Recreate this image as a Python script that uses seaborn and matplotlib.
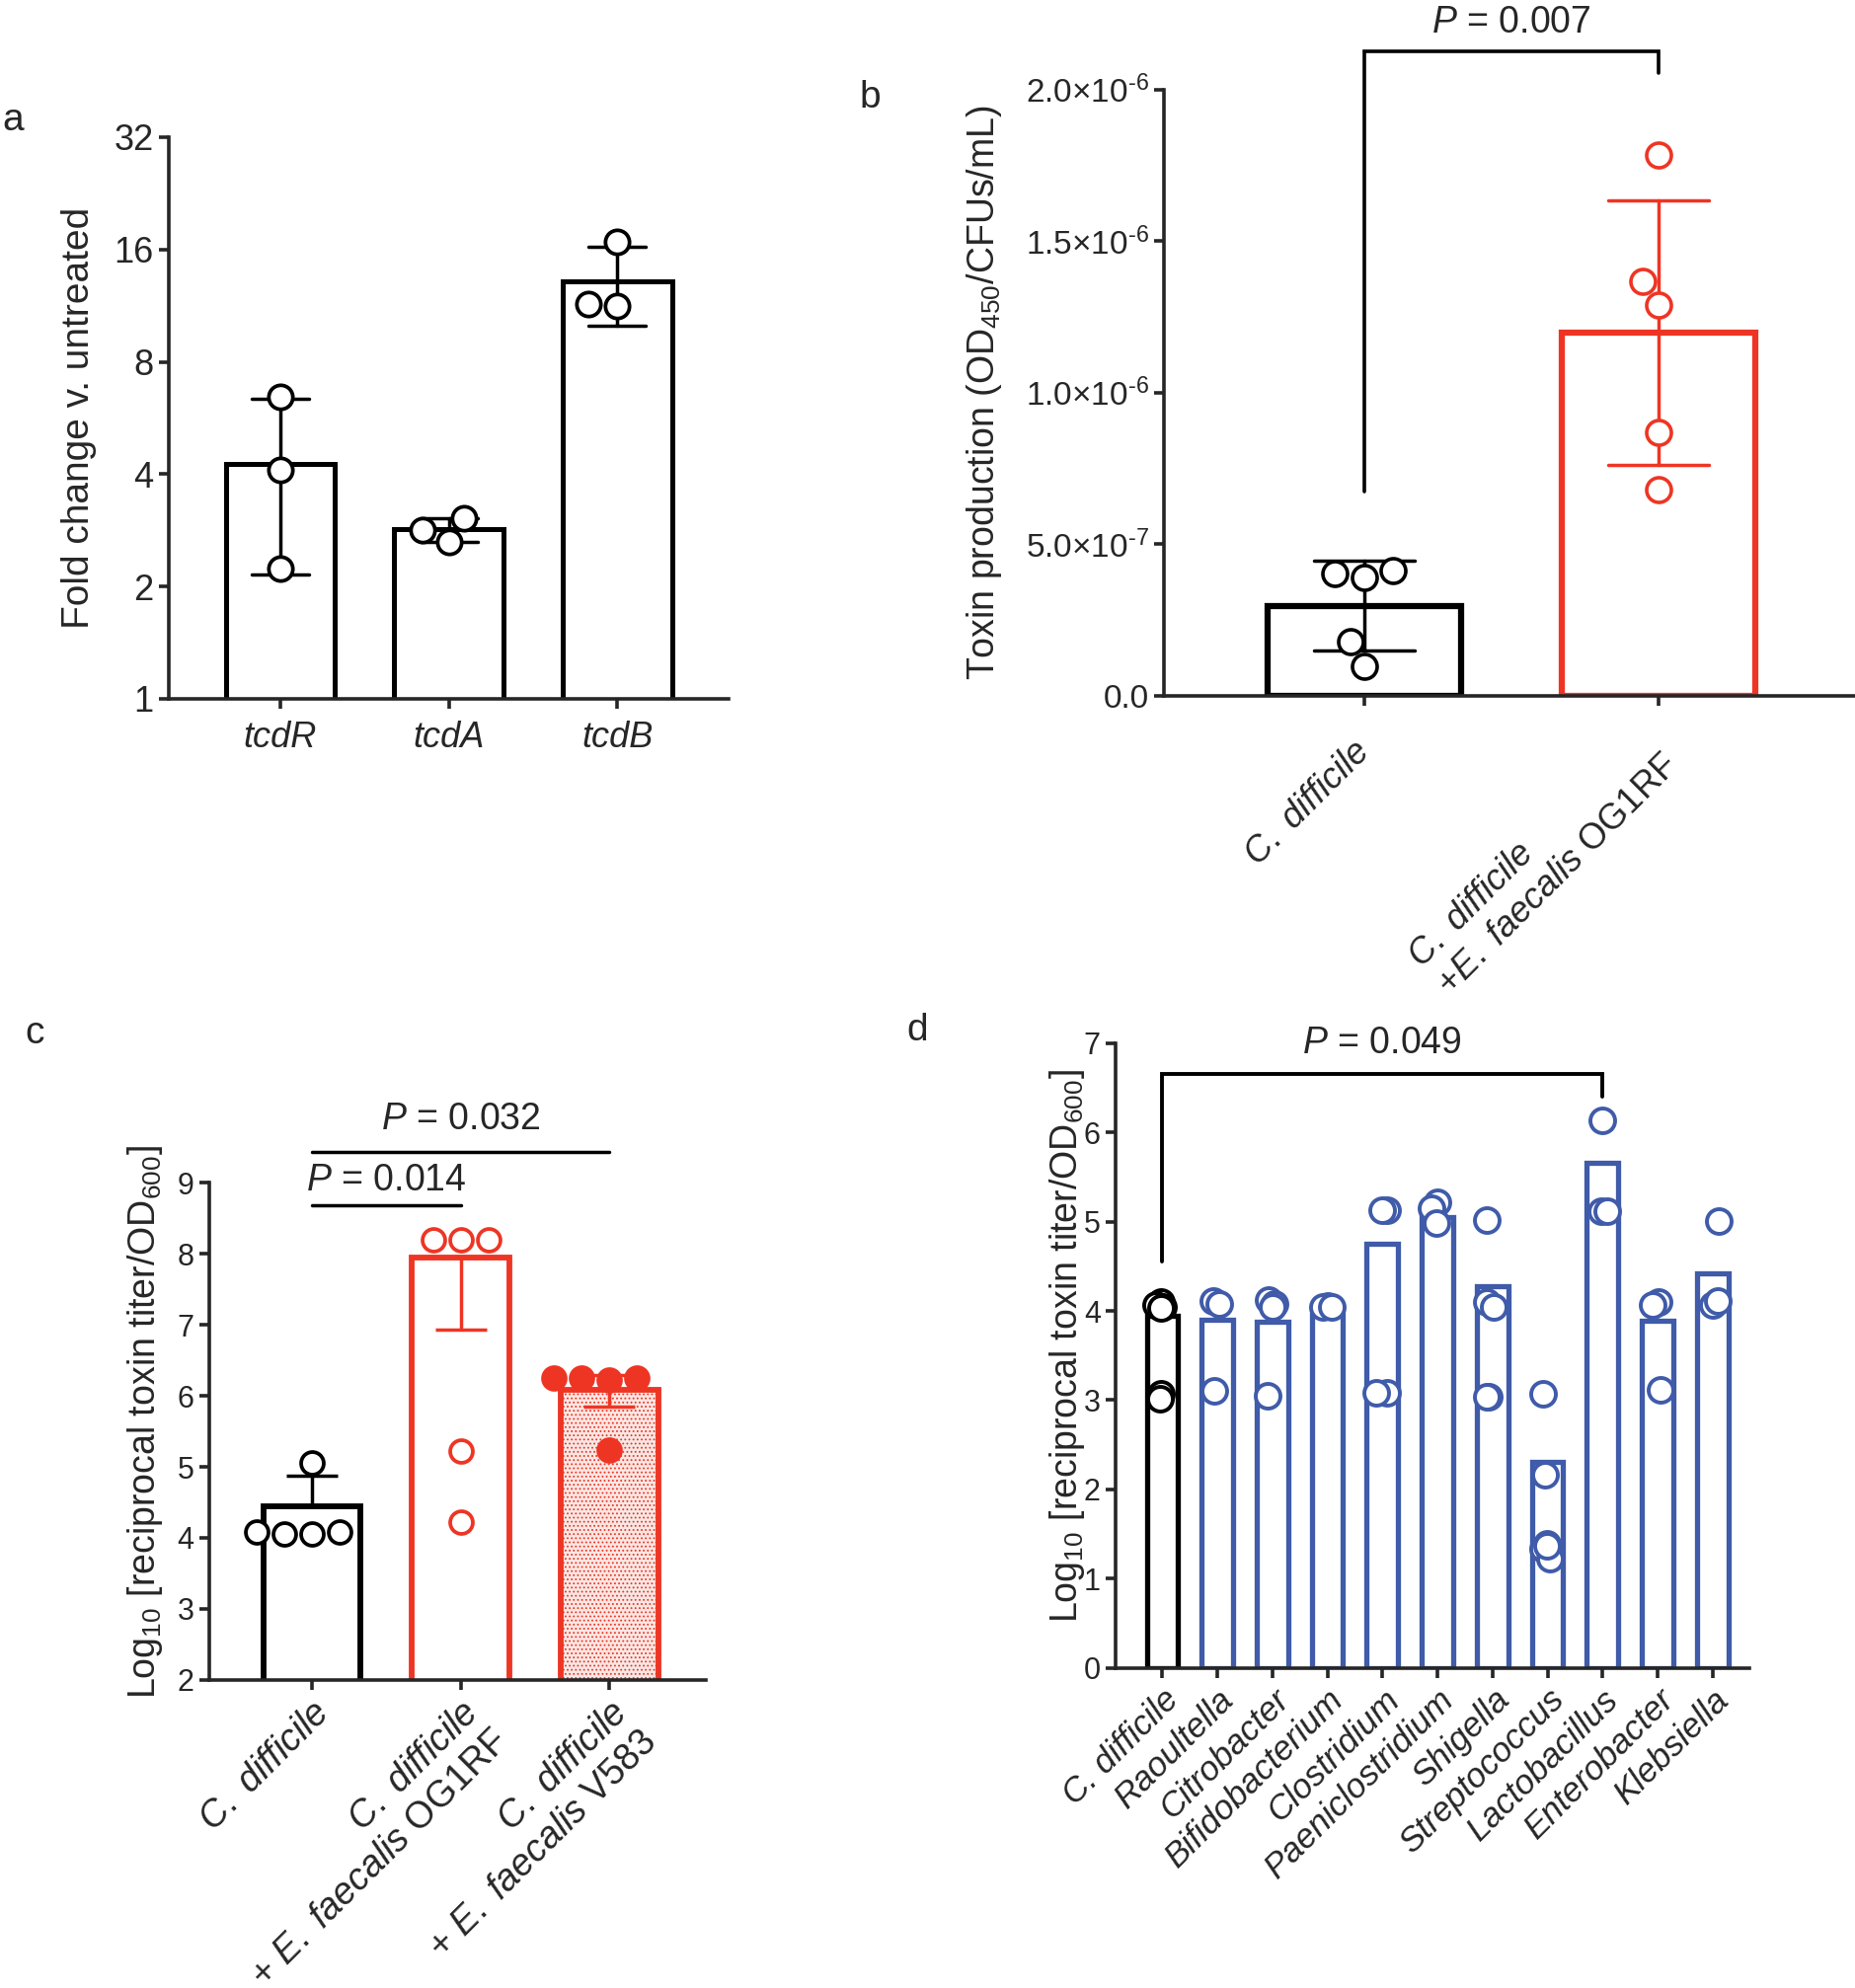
import warnings
import numpy as np
import pandas as pd
import seaborn as sns
import matplotlib.pyplot as plt
from matplotlib.ticker import NullLocator

warnings.filterwarnings("ignore")

RED = "#ee3524"
BLUE = "#3f5ba9"
PINK = "#fde4e0"

# ---- panel a: fold change (log2 axis) ----
genes = ["tcdR", "tcdA", "tcdB"]
fold_tcdR = [6.45, 4.10, 2.24]
fold_tcdA = [3.05, 2.64, 2.84]
fold_tcdB = [16.8, 11.3, 11.4]
fold_ticks = [1, 2, 4, 8, 16, 32]

# ---- panel b: toxin production ----
groups_b = ["cd", "cd_og1rf"]
labels_b = [r"$\it{C.\ difficile}$",
            r"$\it{C.\ difficile}$" + "\n" + r"+$\it{E.\ faecalis}$ OG1RF"]
tox_cd = [4.05e-7, 4.13e-7, 3.90e-7, 1.79e-7, 0.96e-7]
tox_cd_og1rf = [1.784e-6, 1.368e-6, 1.289e-6, 0.868e-6, 0.680e-6]
tox_ticks = [0, 5e-7, 1e-6, 1.5e-6, 2e-6]
tox_ticklabels = ["0.0", r"5.0×10$^{\text{-7}}$", r"1.0×10$^{\text{-6}}$",
                  r"1.5×10$^{\text{-6}}$", r"2.0×10$^{\text{-6}}$"]
p_b = "0.007"

# ---- panel c: toxin titer with E. faecalis strains ----
groups_c = ["cd", "og1rf", "v583"]
labels_c = [r"$\it{C.\ difficile}$",
            r"$\it{C.\ difficile}$" + "\n" + r"+ $\it{E.\ faecalis}$ OG1RF",
            r"$\it{C.\ difficile}$" + "\n" + r"+ $\it{E.\ faecalis}$ V583"]
titer_cd = [4.05, 4.08, 4.05, 4.08, 5.05]
titer_og1rf = [8.20, 8.20, 8.20, 5.22, 4.22]
titer_v583 = [6.25, 6.25, 6.25, 6.23, 5.24]
bar_c = [4.45, 7.95, 6.09]
err_c_low = [0.0, 1.02, 0.24]
err_c_high = [0.42, 0.0, 0.21]
p_c_og1rf = "0.014"
p_c_v583 = "0.032"

# ---- panel d: toxin titer with other genera ----
genera = ["C. difficile", "Raoultella", "Citrobacter", "Bifidobacterium",
          "Clostridium", "Paeniclostridium", "Shigella", "Streptococcus",
          "Lactobacillus", "Enterobacter", "Klebsiella"]
bar_d = [3.95, 3.90, 3.88, 4.02, 4.75, 5.05, 4.28, 2.31, 5.66, 3.89, 4.42]
pts_cdiff = [4.10, 4.07, 4.05, 4.03, 3.07, 3.02]
pts_raoultella = [4.11, 4.08, 3.10]
pts_citrobacter = [4.12, 4.08, 4.05, 3.05]
pts_bifido = [4.06, 4.05, 4.04]
pts_clostridium = [5.13, 5.13, 3.08, 3.08]
pts_paeni = [5.22, 5.15, 4.99]
pts_shigella = [5.02, 4.10, 4.05, 3.04, 3.04]
pts_strepto = [3.07, 2.17, 1.39, 1.34, 1.22, 1.37]
pts_lacto = [6.14, 5.12, 5.12]
pts_entero = [4.10, 4.07, 3.12]
pts_klebsiella = [5.01, 4.07, 4.11]
p_d = "0.049"

sns.set_style("ticks")
plt.rcParams["font.family"] = ["Liberation Sans", "DejaVu Sans"]
plt.rcParams["mathtext.fontset"] = "custom"
plt.rcParams["mathtext.rm"] = "Liberation Sans"
plt.rcParams["mathtext.it"] = "Liberation Sans:italic"
plt.rcParams["mathtext.bf"] = "Liberation Sans:bold"
plt.rcParams["mathtext.sf"] = "Liberation Sans"
plt.rcParams["hatch.linewidth"] = 0.8

fig = plt.figure(figsize=(18.79, 20.14), dpi=100)


def style_axes(ax, ticksize):
    """common GraphPad-like axis look"""
    ax.spines[["top", "right"]].set_visible(False)
    for s in ["left", "bottom"]:
        ax.spines[s].set_linewidth(2.6)
    ax.tick_params(width=2.6, length=7, labelsize=ticksize, pad=4)
    ax.set_xlabel("")


def swarm(ax, values, cat, order, edge, face="white", size=16, lw=2.2):
    sns.swarmplot(x=[cat] * len(values), y=values, order=order, color=face,
                  edgecolor=edge, linewidth=lw, size=size, ax=ax, zorder=5,
                  warn_thresh=1.0)


# ================= a =================
ax = fig.add_axes([0.091, 0.6485, 0.302, 0.2825])
df_a = pd.DataFrame({"gene": np.repeat(genes, 3),
                     "fold": fold_tcdR + fold_tcdA + fold_tcdB})
sns.barplot(data=df_a, x="gene", y="fold", order=genes, errorbar="sd",
            capsize=0.34, color="white", edgecolor="black", linewidth=3.6,
            width=0.65, err_kws={"color": "black", "linewidth": 2.5}, ax=ax)
for g, vals in zip(genes, [fold_tcdR, fold_tcdA, fold_tcdB]):
    swarm(ax, vals, g, genes, "black", size=17.5, lw=2.7)
ax.set_yscale("log", base=2)
ax.set_ylim(1, 32)
ax.set_xlim(-0.662, 2.662)
ax.set_yticks(fold_ticks, [str(t) for t in fold_ticks])
ax.yaxis.set_minor_locator(NullLocator())
style_axes(ax, 26)
ax.set_xticks(range(3), genes, fontsize=26, style="italic")
ax.tick_params(axis="x", pad=9)
ax.set_ylabel("Fold change v. untreated", fontsize=28)
ax.yaxis.set_label_coords(-0.129, 0.5)

# ================= b =================
ax = fig.add_axes([0.6275, 0.650, 0.3725, 0.305])
df_b = pd.DataFrame({"group": ["cd"] * len(tox_cd) + ["cd_og1rf"] * len(tox_cd_og1rf),
                     "tox": tox_cd + tox_cd_og1rf})
for g, col in zip(groups_b, ["black", RED]):
    sns.barplot(data=df_b[df_b["group"] == g], x="group", y="tox", order=groups_b,
                errorbar="sd", capsize=0.34, color="white", edgecolor=col,
                linewidth=4.5, width=0.655,
                err_kws={"color": col, "linewidth": 2.5}, ax=ax)
swarm(ax, tox_cd, "cd", groups_b, "black", size=18, lw=2.6)
swarm(ax, tox_cd_og1rf, "cd_og1rf", groups_b, RED, size=18, lw=2.6)
ax.set_ylim(0, 2e-6)
ax.set_xlim(-0.681, 1.668)
ax.set_yticks(tox_ticks, tox_ticklabels)
style_axes(ax, 24)
ax.set_xticks(range(2), labels_b, rotation=45, ha="right", va="center",
              rotation_mode="anchor", fontsize=26)
ax.tick_params(axis="x", pad=30)
for lbl in ax.get_xticklabels():
    lbl.set_multialignment("left")
ax.set_ylabel("Toxin production (OD$_{450}$/CFUs/mL)", fontsize=27)
ax.yaxis.set_label_coords(-0.231, 0.5)
# significance bracket
ax.plot([0, 0, 1, 1], [0.673e-6, 2.127e-6, 2.127e-6, 2.055e-6], color="black",
        lw=2.6, clip_on=False, solid_joinstyle="miter")
ax.text(0.5, 2.22e-6, r"$\it{P}$ = " + p_b, ha="center", va="center", fontsize=27)

# ================= c =================
ax = fig.add_axes([0.1128, 0.155, 0.2677, 0.250])
faces_c = ["white", "white", PINK]
edges_c = ["black", RED, RED]
for g, h, fc, ec in zip(groups_c, bar_c, faces_c, edges_c):
    sns.barplot(x=[g], y=[h], order=groups_c, color=fc, edgecolor=ec,
                linewidth=4.2, width=0.655, errorbar=None, ax=ax)
ax.patches[-1].set_hatch("....")
for i, ec in enumerate(edges_c):
    ax.errorbar(i, bar_c[i], yerr=[[err_c_low[i]], [err_c_high[i]]], fmt="none",
                ecolor=ec, elinewidth=2.5, capsize=18.4, capthick=2.5, zorder=4)
swarm(ax, titer_cd, "cd", groups_c, "black", size=16.5, lw=2.7)
swarm(ax, titer_og1rf, "og1rf", groups_c, RED, size=16.5, lw=2.7)
swarm(ax, titer_v583, "v583", groups_c, RED, face=RED, size=16.5, lw=2.7)
ax.set_ylim(2, 9)
ax.set_xlim(-0.69, 2.647)
ax.set_yticks(range(2, 10))
style_axes(ax, 22)
ax.set_xticks(range(3), labels_c, rotation=45, ha="right", va="top",
              rotation_mode="anchor", fontsize=27)
for lbl in ax.get_xticklabels():
    lbl.set_multialignment("right")
ax.set_ylabel("Log$_{10}$ [reciprocal toxin titer/OD$_{600}$]", fontsize=27)
ax.yaxis.set_label_coords(-0.089, 0.518)
ax.plot([0, 1], [8.69, 8.69], color="black", lw=2.5, clip_on=False)
ax.text(0.5, 9.03, r"$\it{P}$ = " + p_c_og1rf, ha="center", va="center", fontsize=27)
ax.plot([0, 2], [9.44, 9.44], color="black", lw=2.5, clip_on=False)
ax.text(1.0, 9.9, r"$\it{P}$ = " + p_c_v583, ha="center", va="center", fontsize=27)

# ================= d =================
ax = fig.add_axes([0.6014, 0.161, 0.3417, 0.3143])
edges_d = ["black"] + [BLUE] * (len(genera) - 1)
for g, h, ec in zip(genera, bar_d, edges_d):
    sns.barplot(x=[g], y=[h], order=genera, color="white", edgecolor=ec,
                linewidth=3.8, width=0.57, errorbar=None, ax=ax)
pts_d = [pts_cdiff, pts_raoultella, pts_citrobacter, pts_bifido, pts_clostridium,
         pts_paeni, pts_shigella, pts_strepto, pts_lacto, pts_entero, pts_klebsiella]
# small fixed jitter so overlapping replicates stay inside the narrow bars
np.random.seed(2)
for g, vals, ec in zip(genera, pts_d, edges_d):
    sns.stripplot(x=[g] * len(vals), y=vals, order=genera, color="white",
                  edgecolor=ec, linewidth=2.8, size=18, jitter=0.13, ax=ax,
                  zorder=5)
ax.set_ylim(0, 7)
ax.set_xlim(-0.85, 10.67)
ax.set_yticks(range(0, 8))
style_axes(ax, 22)
ax.set_xticks(range(len(genera)), genera, rotation=45, ha="right", va="top",
              rotation_mode="anchor", fontsize=25, style="italic")
ax.set_ylabel("Log$_{10}$ [reciprocal toxin titer/OD$_{600}$]", fontsize=27)
ax.yaxis.set_label_coords(-0.045, 0.516)
ax.plot([0, 0, 8, 8], [4.55, 6.65, 6.65, 6.40], color="black", lw=2.8,
        clip_on=False, solid_joinstyle="miter")
ax.text(4.0, 7.0, r"$\it{P}$ = " + p_d, ha="center", va="center", fontsize=27)

# panel letters
for letter, x, y in [("a", 0.0069, 0.9394), ("b", 0.4689, 0.9508),
                     ("c", 0.0186, 0.4801), ("d", 0.4944, 0.4816)]:
    fig.text(x, y, letter, ha="center", va="center", fontsize=28)

fig.savefig("out.png", dpi=100)
